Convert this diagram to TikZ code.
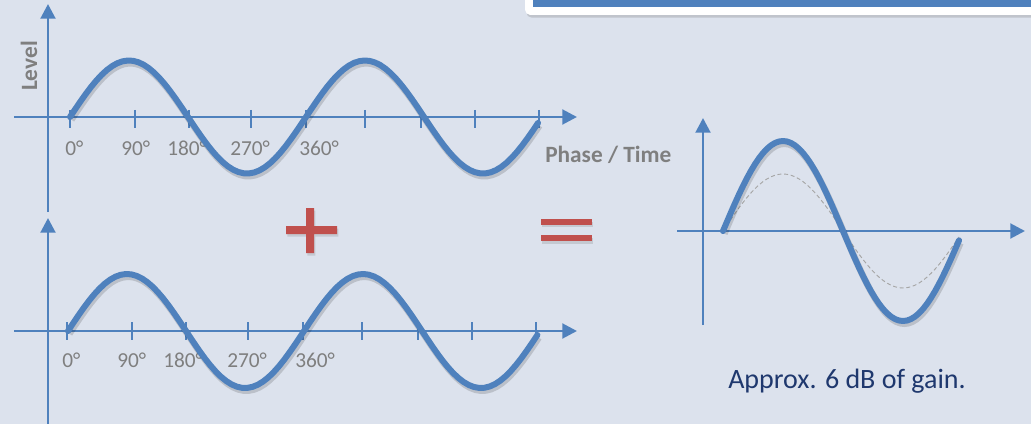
\documentclass[tikz,border=0pt]{standalone}
\usepackage{fontspec}
\setmainfont{Carlito}
\usepackage{tikz}
\usetikzlibrary{arrows.meta,shadows}
\definecolor{slidebg}{RGB}{220,226,237}
\definecolor{waveblue}{RGB}{79,129,189}
\definecolor{signred}{RGB}{192,80,77}
\definecolor{labelgray}{RGB}{127,127,127}
\definecolor{captionnavy}{RGB}{31,56,110}

\begin{document}
\begin{tikzpicture}[
  x=0.75pt, y=-0.75pt,
  axis/.style={waveblue, line width=2.2pt, -{Triangle[length=11pt, width=11pt]}},
  tickmark/.style={waveblue, line width=1.4pt},
  wave/.style={waveblue, line width=4.5pt, line cap=round, line join=round,
    preaction={draw=black, opacity=0.15, line width=5pt,
      transform canvas={xshift=1pt, yshift=-2pt}}},
  halfwave/.style={gray!70, line width=0.7pt, dash pattern=on 3pt off 2pt},
  deg/.style={labelgray, font=\fontsize{16}{18}\selectfont, inner sep=0pt, anchor=base west},
  axislabel/.style={labelgray, font=\bfseries\fontsize{17.5}{19}\selectfont, inner sep=0pt},
  sign/.style={signred, drop shadow={opacity=0.25, shadow xshift=1pt, shadow yshift=-2pt}}
]
\useasboundingbox (0,0) rectangle (1031,424);
\fill[slidebg] (0,0) rectangle (1031,424);

% title box, cut off at the top
\fill[white, rounded corners=4pt, drop shadow={opacity=0.3, shadow xshift=1pt, shadow yshift=-2pt}]
  (525,-20) rectangle (1060,15);
\fill[waveblue] (533,-20) rectangle (1060,7);

% upper wave
\coordinate (topyb) at (48,212);
\coordinate (topyt) at (48,4);
\coordinate (topxl) at (14,117);
\coordinate (topxr) at (577,117);
\draw[axis] (topyb) -- (topyt);
\draw[axis] (topxl) -- (topxr);
\foreach \tx in {70,135,189,251,306,365,421,475,539}
  \draw[tickmark] (\tx,110) -- (\tx,128);
\foreach \lx/\dg in {65/0,121/90,167/180,230/270,299/360}
  \node[deg] (top\dg) at (\lx,156) {\dg°};
\draw[wave] plot[domain=0:714, samples=90] ({70+0.65556*\x}, {117-56.5*sin(\x)});
\node[axislabel, rotate=90] (level) at (29,66) {Level};
\node[axislabel, anchor=base west] (phase) at (545,163) {Phase / Time};

% lower wave
\coordinate (botyb) at (48,430);
\coordinate (botyt) at (48,218);
\coordinate (botxl) at (14,331);
\coordinate (botxr) at (577,331);
\draw[axis] (botyb) -- (botyt);
\draw[axis] (botxl) -- (botxr);
\foreach \tx in {67,132,186,248,303,362,418,472,536}
  \draw[tickmark] (\tx,322) -- (\tx,340);
\foreach \lx/\dg in {62/0,117/90,163/180,227/270,295/360}
  \node[deg] (bot\dg) at (\lx,367) {\dg°};
\draw[wave] plot[domain=0:716, samples=90] ({68+0.65556*\x}, {331-57*sin(\x)});

% plus and equals
\fill[sign] (286,226) rectangle (337,234) (306,208) rectangle (314,253);
\fill[sign] (541,219) rectangle (592,224.5);
\fill[sign] (541,235) rectangle (592,241);

% summed wave
\coordinate (sumyb) at (703,325);
\coordinate (sumyt) at (703,118);
\coordinate (sumxl) at (677,231);
\coordinate (sumxr) at (1025,231);
\draw[axis] (sumyb) -- (sumyt);
\draw[axis] (sumxl) -- (sumxr);
\draw[halfwave] plot[domain=0:354, samples=60] ({723+0.66667*\x}, {231-57*sin(\x)});
\draw[wave] plot[domain=0:354, samples=60] ({723+0.66667*\x}, {231-90*sin(\x)});
\node[captionnavy, font=\fontsize{21}{25}\selectfont, inner sep=0pt, anchor=base west]
  (gain) at (728,388) {Approx. 6 dB of gain.};
\end{tikzpicture}
\end{document}
